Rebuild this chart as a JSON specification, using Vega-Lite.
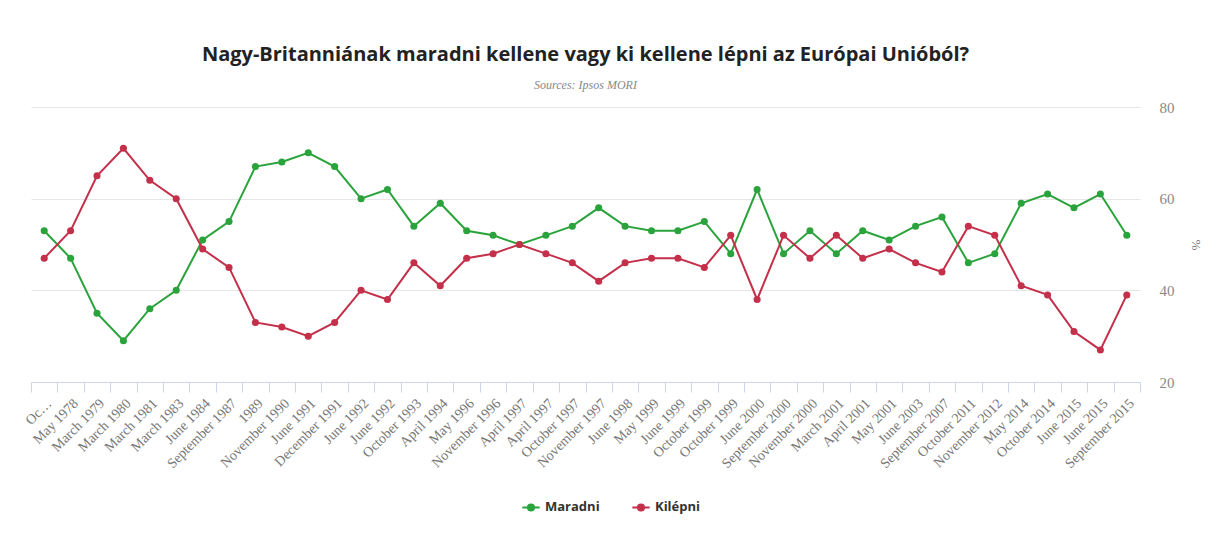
{
  "$schema": "https://vega.github.io/schema/vega-lite/v6.json",
  "width": 1109,
  "height": 275,
  "padding": {"left": 22, "top": 45, "right": 20, "bottom": 20},
  "background": "white",
  "title": {
    "text": "Nagy-Britanniának maradni kellene vagy ki kellene lépni az Európai Unióból?",
    "subtitle": "Sources: Ipsos MORI",
    "anchor": "middle",
    "font": "Open Sans",
    "fontSize": 20,
    "fontWeight": "bold",
    "color": "#222222",
    "subtitleFont": "Liberation Serif",
    "subtitleFontStyle": "italic",
    "subtitleFontSize": 12,
    "subtitleColor": "#888888",
    "subtitlePadding": 15,
    "offset": 9
  },
  "config": {
    "view": {"stroke": null},
    "axis": {"labelFont": "Liberation Serif", "titleFont": "Liberation Serif"}
  },
  "data": {
    "values": [
      {"d": "Oc…", "s": "Maradni", "v": 53}, {"d": "Oc…", "s": "Kilépni", "v": 47},
      {"d": "May 1978", "s": "Maradni", "v": 47}, {"d": "May 1978", "s": "Kilépni", "v": 53},
      {"d": "March 1979", "s": "Maradni", "v": 35}, {"d": "March 1979", "s": "Kilépni", "v": 65},
      {"d": "March 1980", "s": "Maradni", "v": 29}, {"d": "March 1980", "s": "Kilépni", "v": 71},
      {"d": "March 1981", "s": "Maradni", "v": 36}, {"d": "March 1981", "s": "Kilépni", "v": 64},
      {"d": "March 1983", "s": "Maradni", "v": 40}, {"d": "March 1983", "s": "Kilépni", "v": 60},
      {"d": "June 1984", "s": "Maradni", "v": 51}, {"d": "June 1984", "s": "Kilépni", "v": 49},
      {"d": "September 1987", "s": "Maradni", "v": 55}, {"d": "September 1987", "s": "Kilépni", "v": 45},
      {"d": "1989", "s": "Maradni", "v": 67}, {"d": "1989", "s": "Kilépni", "v": 33},
      {"d": "November 1990", "s": "Maradni", "v": 68}, {"d": "November 1990", "s": "Kilépni", "v": 32},
      {"d": "June 1991", "s": "Maradni", "v": 70}, {"d": "June 1991", "s": "Kilépni", "v": 30},
      {"d": "December 1991", "s": "Maradni", "v": 67}, {"d": "December 1991", "s": "Kilépni", "v": 33},
      {"d": "June 1992", "s": "Maradni", "v": 60}, {"d": "June 1992", "s": "Kilépni", "v": 40},
      {"d": "June 1992\u200b", "s": "Maradni", "v": 62}, {"d": "June 1992\u200b", "s": "Kilépni", "v": 38},
      {"d": "October 1993", "s": "Maradni", "v": 54}, {"d": "October 1993", "s": "Kilépni", "v": 46},
      {"d": "April 1994", "s": "Maradni", "v": 59}, {"d": "April 1994", "s": "Kilépni", "v": 41},
      {"d": "May 1996", "s": "Maradni", "v": 53}, {"d": "May 1996", "s": "Kilépni", "v": 47},
      {"d": "November 1996", "s": "Maradni", "v": 52}, {"d": "November 1996", "s": "Kilépni", "v": 48},
      {"d": "April 1997", "s": "Maradni", "v": 50}, {"d": "April 1997", "s": "Kilépni", "v": 50},
      {"d": "April 1997\u200b", "s": "Maradni", "v": 52}, {"d": "April 1997\u200b", "s": "Kilépni", "v": 48},
      {"d": "October 1997", "s": "Maradni", "v": 54}, {"d": "October 1997", "s": "Kilépni", "v": 46},
      {"d": "November 1997", "s": "Maradni", "v": 58}, {"d": "November 1997", "s": "Kilépni", "v": 42},
      {"d": "June 1998", "s": "Maradni", "v": 54}, {"d": "June 1998", "s": "Kilépni", "v": 46},
      {"d": "May 1999", "s": "Maradni", "v": 53}, {"d": "May 1999", "s": "Kilépni", "v": 47},
      {"d": "June 1999", "s": "Maradni", "v": 53}, {"d": "June 1999", "s": "Kilépni", "v": 47},
      {"d": "October 1999", "s": "Maradni", "v": 55}, {"d": "October 1999", "s": "Kilépni", "v": 45},
      {"d": "October 1999\u200b", "s": "Maradni", "v": 48}, {"d": "October 1999\u200b", "s": "Kilépni", "v": 52},
      {"d": "June 2000", "s": "Maradni", "v": 62}, {"d": "June 2000", "s": "Kilépni", "v": 38},
      {"d": "September 2000", "s": "Maradni", "v": 48}, {"d": "September 2000", "s": "Kilépni", "v": 52},
      {"d": "November 2000", "s": "Maradni", "v": 53}, {"d": "November 2000", "s": "Kilépni", "v": 47},
      {"d": "March 2001", "s": "Maradni", "v": 48}, {"d": "March 2001", "s": "Kilépni", "v": 52},
      {"d": "April 2001", "s": "Maradni", "v": 53}, {"d": "April 2001", "s": "Kilépni", "v": 47},
      {"d": "May 2001", "s": "Maradni", "v": 51}, {"d": "May 2001", "s": "Kilépni", "v": 49},
      {"d": "June 2003", "s": "Maradni", "v": 54}, {"d": "June 2003", "s": "Kilépni", "v": 46},
      {"d": "September 2007", "s": "Maradni", "v": 56}, {"d": "September 2007", "s": "Kilépni", "v": 44},
      {"d": "October 2011", "s": "Maradni", "v": 46}, {"d": "October 2011", "s": "Kilépni", "v": 54},
      {"d": "November 2012", "s": "Maradni", "v": 48}, {"d": "November 2012", "s": "Kilépni", "v": 52},
      {"d": "May 2014", "s": "Maradni", "v": 59}, {"d": "May 2014", "s": "Kilépni", "v": 41},
      {"d": "October 2014", "s": "Maradni", "v": 61}, {"d": "October 2014", "s": "Kilépni", "v": 39},
      {"d": "June 2015", "s": "Maradni", "v": 58}, {"d": "June 2015", "s": "Kilépni", "v": 31},
      {"d": "June 2015\u200b", "s": "Maradni", "v": 61}, {"d": "June 2015\u200b", "s": "Kilépni", "v": 27},
      {"d": "September 2015", "s": "Maradni", "v": 52}, {"d": "September 2015", "s": "Kilépni", "v": 39}
    ]
  },
  "encoding": {
    "x": {
      "field": "d",
      "type": "ordinal",
      "sort": null,
      "scale": {"type": "band", "paddingInner": 0, "paddingOuter": 0},
      "axis": {
        "title": null,
        "labelAngle": -45,
        "labelFontSize": 14,
        "labelColor": "#777777",
        "labelPadding": 4,
        "tickBand": "extent",
        "tickSize": 10,
        "tickColor": "#ccd6eb",
        "domainColor": "#ccd6eb",
        "grid": false
      }
    },
    "y": {
      "field": "v",
      "type": "quantitative",
      "scale": {"domain": [20, 80], "nice": false},
      "axis": {
        "orient": "right",
        "values": [20, 40, 60, 80],
        "title": "%",
        "titleFontSize": 13,
        "titleFontWeight": "normal",
        "titleColor": "#777777",
        "titlePadding": 14,
        "labelFontSize": 15,
        "labelColor": "#888888",
        "labelPadding": 19,
        "domain": false,
        "ticks": false,
        "gridColor": "#e6e6e6"
      }
    },
    "color": {
      "field": "s",
      "type": "nominal",
      "sort": ["Maradni", "Kilépni"],
      "scale": {"domain": ["Maradni", "Kilépni"], "range": ["#2ba33c", "#c4304a"]},
      "legend": {
        "title": null,
        "orient": "none",
        "legendX": 490,
        "legendY": 390,
        "direction": "horizontal",
        "labelFont": "Open Sans",
        "labelFontSize": 13,
        "labelFontWeight": "bold",
        "labelColor": "#333333",
        "symbolType": "M-1,0H1M-0.35,0A0.35,0.35,0,1,1,0.35,0A0.35,0.35,0,1,1,-0.35,0",
        "symbolSize": 300,
        "symbolStrokeWidth": 2,
        "columnPadding": 28
      }
    }
  },
  "layer": [
    {"mark": {"type": "line", "strokeWidth": 2}},
    {"mark": {"type": "point", "filled": true, "size": 50, "opacity": 1}}
  ]
}
